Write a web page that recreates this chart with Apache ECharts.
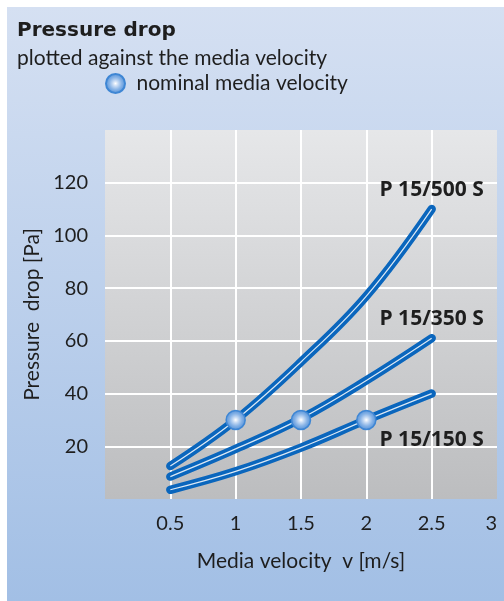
<!DOCTYPE html>
<html>
<head>
<meta charset="utf-8">
<script src="https://cdn.jsdelivr.net/npm/echarts@6/dist/echarts.min.js"></script>
<style>
  html, body { margin: 0; padding: 0; background: #fff; }
  #chart { width: 504px; height: 601px; }
</style>
</head>
<body>
<div id="chart"></div>
<script>
// values
const velocity = [0.5, 1, 1.5, 2, 2.5];
const p500 = [12.5, 30, 52, 77, 110];
const p350 = [8.5, 19, 30.5, 45, 61];
const p150 = [3.5, 10.5, 19.5, 30, 40];
const nominal = [[1, 30], [1.5, 30], [2, 30]];
const curveNames = ["P 15/500 S", "P 15/350 S", "P 15/150 S"];

const FONT = "Lato";
const BLUE = "#0a66bd";
const INK = "#1e1e1e";

const pts = (ys) => velocity.map((v, i) => [v, ys[i]]);

// last point carries the curve name (tiny invisible symbol so the label shows)
function withLabel(ys, name, pos, dist) {
  const d = pts(ys);
  const last = d[d.length - 1];
  d[d.length - 1] = {
    value: last,
    symbol: "circle", symbolSize: 2,
    itemStyle: { color: "rgba(0,0,0,0)", borderWidth: 0 },
    label: {
      show: true, formatter: name, position: pos, distance: dist,
      fontFamily: "Open Sans", fontWeight: "bold", fontSize: 21, color: INK
    }
  };
  return d;
}

const curves = [
  withLabel(p500, curveNames[0], "top", 8),
  withLabel(p350, curveNames[1], "top", 8),
  withLabel(p150, curveNames[2], "bottom", 35)
];

const series = [];
curves.forEach((d) => {
  series.push({
    type: "line", data: d, smooth: 0.4, symbol: "none", showSymbol: true, silent: true, z: 3,
    lineStyle: { color: BLUE, width: 8.5, cap: "round" }
  });
});
curves.forEach((d) => {
  series.push({
    type: "line", data: d.map(p => (p.value ? p.value : p)), smooth: 0.4, symbol: "none", silent: true, z: 4,
    lineStyle: { color: "rgba(255,255,255,0.85)", width: 1.2 }
  });
});

const markerFill = {
  type: "radial", x: 0.5, y: 0.5, r: 0.5,
  colorStops: [
    { offset: 0, color: "#ffffff" },
    { offset: 0.25, color: "#c9dcf4" },
    { offset: 0.6, color: "#86b2e6" },
    { offset: 1, color: "#4f8fd8" }
  ]
};
series.push({
  name: "nominal media velocity",
  type: "scatter", data: nominal, symbolSize: 19, z: 6,
  itemStyle: { color: markerFill, borderColor: "#3e86d4", borderWidth: 1.5, opacity: 1 }
});

const chart = echarts.init(document.getElementById("chart"), null, { renderer: "canvas" });
chart.setOption({
  animation: false,
  textStyle: { fontFamily: FONT },
  graphic: [{
    type: "rect", z: -100, silent: true,
    shape: { x: 7, y: 7, width: 497, height: 594 },
    style: {
      fill: {
        type: "linear", x: 0, y: 0, x2: 0, y2: 1,
        colorStops: [{ offset: 0, color: "#d5e0f2" }, { offset: 1, color: "#a2bfe5" }]
      }
    }
  }],
  title: {
    text: "Pressure drop",
    subtext: "plotted against the media velocity",
    left: 17, top: 21, padding: 0, itemGap: 7,
    textStyle: { fontFamily: "DejaVu Sans", fontWeight: "bold", fontSize: 20, color: INK },
    subtextStyle: { fontFamily: FONT, fontSize: 21, color: INK }
  },
  legend: {
    data: ["nominal media velocity"],
    left: 105, top: 73, padding: 0,
    itemWidth: 32, itemHeight: 19,
    textStyle: { fontFamily: FONT, fontSize: 21, color: INK }
  },
  grid: {
    left: 105, right: 7, top: 130, bottom: 102,
    show: true, borderWidth: 0,
    backgroundColor: {
      type: "linear", x: 0, y: 0, x2: 0, y2: 1,
      colorStops: [{ offset: 0, color: "#e6e7e9" }, { offset: 1, color: "#bcbdbf" }]
    }
  },
  xAxis: {
    type: "value", min: 0, max: 3, interval: 0.5,
    name: "Media velocity  v [m/s]", nameLocation: "middle", nameGap: 52,
    nameTextStyle: { fontFamily: FONT, fontSize: 21, color: INK },
    axisLine: { show: false }, axisTick: { show: false },
    axisLabel: { showMinLabel: false, alignMaxLabel: "right", margin: 15, fontSize: 20, color: INK, fontFamily: FONT },
    splitLine: { show: true, showMinLine: false, showMaxLine: false, lineStyle: { color: "#ffffff", width: 2 } }
  },
  yAxis: {
    type: "value", min: 0, max: 140, interval: 20,
    name: "Pressure  drop [Pa]", nameLocation: "middle", nameGap: 62,
    nameTextStyle: { fontFamily: FONT, fontSize: 21, color: INK },
    axisLine: { show: false }, axisTick: { show: false },
    axisLabel: { showMinLabel: false, showMaxLabel: false, margin: 17, fontSize: 20, color: INK, fontFamily: FONT },
    splitLine: { show: true, showMinLine: false, showMaxLine: false, lineStyle: { color: "#ffffff", width: 2 } }
  },
  series: series
});
</script>
</body>
</html>
